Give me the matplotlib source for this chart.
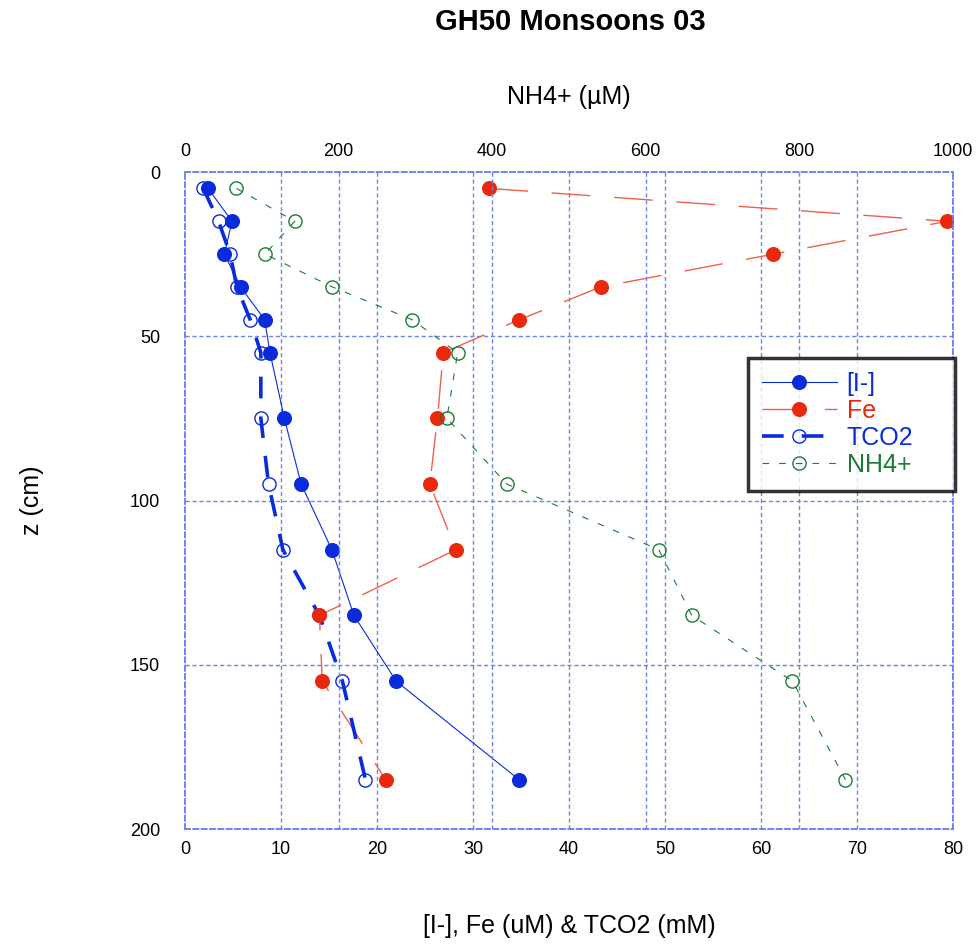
import matplotlib
matplotlib.use("Agg")
import matplotlib.pyplot as plt
from matplotlib.lines import Line2D

plt.rcParams['font.family'] = ['Liberation Sans', 'DejaVu Sans']

depth = [5, 15, 25, 35, 45, 55, 75, 95, 115, 135, 155, 185]
iodide = [2.4, 4.9, 4.1, 5.8, 8.3, 8.85, 10.35, 12.1, 15.3, 17.6, 22.0, 34.8]
fe = [31.7, 79.4, 61.3, 43.3, 34.8, 26.9, 26.3, 25.5, 28.2, 14.0, 14.3, 20.9]
tco2 = [1.9, 3.5, 4.7, 5.4, 6.8, 7.9, 7.9, 8.7, 10.2, 14.0, 16.4, 18.8]
nh4 = [67, 143, 104, 192, 296, 355, 341, 419, 617, 660, 791, 860]

bottom_ticks = [0, 10, 20, 30, 40, 50, 60, 70, 80]
top_ticks = [0, 200, 400, 600, 800, 1000]
y_ticks = [0, 50, 100, 150, 200]

BLUE = '#0A2BDB'
RED = '#E8290B'
RED_LINE = '#F0604A'
GREEN = '#1E7A36'
GRID = '#6F82EE'

fig = plt.figure(figsize=(9.79, 9.44), dpi=100)
ax = fig.add_axes([185/979, 1-829/944, (953-185)/979, (829-172)/944])
ax.set_xlim(0, 80)
ax.set_ylim(200, 0)
ax2 = ax.twiny()
ax2.set_xlim(0, 1000)
ax2.set_ylim(200, 0)

# grids
for t in bottom_ticks[1:-1]:
    ax.axvline(t, color=GRID, lw=1, ls=(0, (3, 2)), zorder=0)
for t in top_ticks[1:-1]:
    ax2.axvline(t, color=GRID, lw=1, ls=(0, (3, 2)), zorder=0)
for t in y_ticks[1:-1]:
    ax.axhline(t, color=GRID, lw=1, ls=(0, (3, 2)), zorder=0)

for a in (ax, ax2):
    for s in a.spines.values():
        s.set_color(GRID)
        s.set_linestyle((0, (3, 2)))
        s.set_linewidth(1.2)
    a.tick_params(length=0, labelsize=13, pad=9)

ax.set_xticks(bottom_ticks)
ax.set_yticks(y_ticks)
ax2.set_xticks(top_ticks)
ax.tick_params(axis='y', pad=18)

ax.plot(fe, depth, color=RED_LINE, lw=1, ls=(0, (28, 17)), zorder=2)
ax.plot(fe, depth, ls='none', marker='o', ms=9.8, color=RED, mec=RED, zorder=4)
ax.plot(iodide, depth, color=BLUE, lw=0.8, marker='o', ms=9.8, mfc=BLUE, mec=BLUE, zorder=5)
ax.plot(tco2, depth, color=BLUE, lw=2.6, ls=(0, (6, 5)), marker='o', ms=9.5,
        mfc='none', mec=BLUE, mew=1, zorder=3)
ax2.plot(nh4, depth, color=GREEN, lw=0.8, ls=(0, (6, 9)), marker='o', ms=9.5,
         mfc='none', mec=GREEN, mew=1, zorder=3)

ax.set_xlabel('[I-], Fe (uM) & TCO2 (mM)', fontsize=18, labelpad=40)
ax.set_ylabel('z (cm)', fontsize=18, labelpad=62)
ax2.set_xlabel('NH4+ (µM)', fontsize=18, labelpad=28)
fig.suptitle('GH50 Monsoons 03', fontsize=21, fontweight='bold', x=570/979, y=1-8/944)

handles = [
    Line2D([], [], color=BLUE, lw=0.8, marker='o', ms=9.8, mfc=BLUE, mec=BLUE),
    Line2D([], [], color=RED_LINE, lw=1, ls=(0, (28, 17)), marker='o', ms=9.8, mfc=RED, mec=RED),
    Line2D([], [], color=BLUE, lw=2.6, ls=(0, (6, 5)), marker='o', ms=9.5, mfc='none', mec=BLUE, mew=1),
    Line2D([], [], color=GREEN, lw=0.8, ls=(0, (6, 9)), marker='o', ms=9.5, mfc='none', mec=GREEN, mew=1),
]
labels = ['[I-]', 'Fe', 'TCO2', 'NH4+']
x0 = (748-185)/768
w = (955-748)/768
y0 = 1-(358-172)/657
leg = ax2.legend(handles, labels, loc='upper left', bbox_to_anchor=(x0, y0, w, 0), mode='expand',
                 borderaxespad=0, fontsize=18, frameon=True, fancybox=False, edgecolor='black',
                 handlelength=3.0, handletextpad=0.4, borderpad=0.55, labelspacing=0.12)
leg.get_frame().set_linewidth(2.5)
for txt, c in zip(leg.get_texts(), [BLUE, RED, BLUE, GREEN]):
    txt.set_color(c)

fig.savefig('out.png', dpi=100)
